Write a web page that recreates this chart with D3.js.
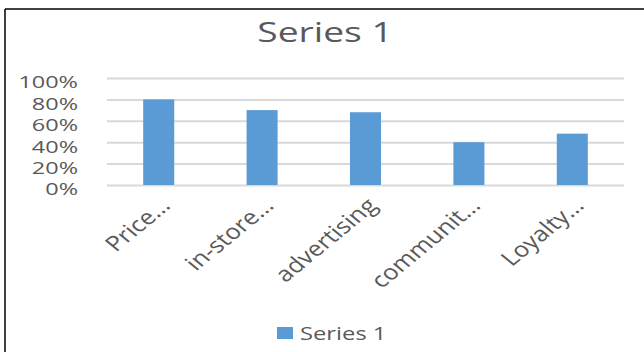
<!DOCTYPE html>
<html>
<head>
<meta charset="utf-8">
<script src="https://cdn.jsdelivr.net/npm/d3@7"></script>
<style>
  body { margin: 0; background: #fff; }
  svg { display: block; }
</style>
</head>
<body>
<svg id="chart"></svg>
<script>
// chart data
var categories = ["Price\u2026", "in-store\u2026", "advertising", "communit\u2026", "Loyalty\u2026"];
var values = [0.80, 0.70, 0.68, 0.40, 0.48];
var yTicks = [0, 0.2, 0.4, 0.6, 0.8, 1.0];
var seriesName = "Series 1";

var width = 644,
    height = 352;
var plotLeft = 107, plotRight = 624,
    plotTop = 78, plotBottom = 185;
var barColor = "#5b9bd5",
    textColor = "#595959",
    gridColor = "#d9d9d9";
// the picture is stretched sideways, text is widened to match
var stretchY = 1.38, stretchX = 1.22, stretchTitle = 1.33, stretchLegend = 1.32;

var svg = d3.select("#chart")
    .attr("width", width)
    .attr("height", height)
    .style("font-family", "'Open Sans', sans-serif");

var x = d3.scaleBand()
    .domain(categories)
    .range([plotLeft, plotRight])
    .paddingInner(0.7)
    .paddingOuter(0.35);

var y = d3.scaleLinear()
    .domain([0, 1])
    .range([plotBottom, plotTop]);

// frame lines
svg.append("line")
    .attr("x1", 5).attr("x2", width)
    .attr("y1", 9).attr("y2", 9)
    .attr("stroke", "#000").attr("stroke-width", 1.5);
svg.append("line")
    .attr("x1", 5).attr("x2", 5)
    .attr("y1", 9).attr("y2", height)
    .attr("stroke", "#000").attr("stroke-width", 1.5);

// title
svg.append("text")
    .attr("transform", "translate(325,42) scale(" + stretchTitle + ",1)")
    .attr("text-anchor", "middle")
    .attr("font-size", "28px")
    .attr("fill", textColor)
    .text(seriesName);

// gridlines + y labels
var yAxis = svg.append("g")
    .attr("transform", "translate(" + plotLeft + ",0)")
    .call(d3.axisLeft(y)
        .tickValues(yTicks)
        .tickSize(-(plotRight - plotLeft))
        .tickFormat(d3.format(".0%")));

yAxis.select(".domain").remove();
yAxis.selectAll(".tick line")
    .attr("stroke", gridColor)
    .attr("stroke-width", 2);
yAxis.selectAll(".tick text")
    .attr("x", (78 - plotLeft) / stretchY)
    .attr("dy", "0.58em")
    .attr("transform", "scale(" + stretchY + ",1)")
    .attr("font-size", "17px")
    .attr("font-family", "'Open Sans', sans-serif")
    .attr("fill", textColor);

// bars
svg.selectAll(".bar")
    .data(values)
    .enter().append("rect")
    .attr("class", "bar")
    .attr("x", (d, i) => x(categories[i]))
    .attr("y", d => y(d))
    .attr("width", x.bandwidth())
    .attr("height", d => y(0) - y(d))
    .attr("fill", barColor);

// category labels, rotated
svg.selectAll(".cat")
    .data(categories)
    .enter().append("text")
    .attr("class", "cat")
    .attr("transform", d => "translate(" + (x(d) + x.bandwidth() / 2 + 13) + ",207) scale(" + stretchX + ",1) rotate(-45)")
    .attr("text-anchor", "end")
    .attr("font-size", "21px")
    .attr("fill", textColor)
    .text(d => d);

// legend
svg.append("rect")
    .attr("x", 277).attr("y", 327)
    .attr("width", 16).attr("height", 12)
    .attr("fill", barColor);
svg.append("text")
    .attr("transform", "translate(300,340) scale(" + stretchLegend + ",1)")
    .attr("font-size", "18px")
    .attr("fill", textColor)
    .text(seriesName);
</script>
</body>
</html>
